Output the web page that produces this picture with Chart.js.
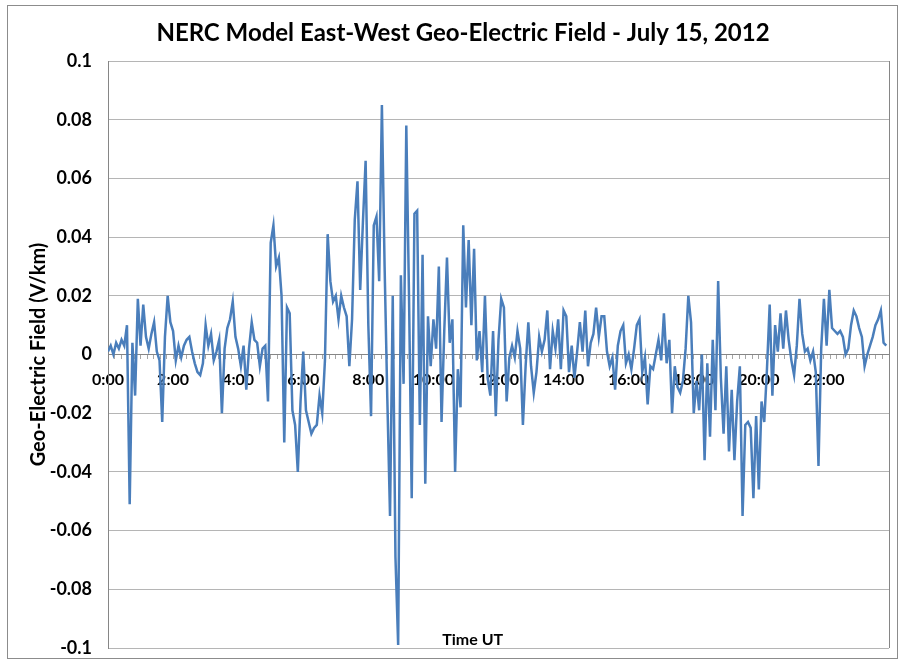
<!DOCTYPE html>
<html>
<head>
<meta charset="utf-8">
<title>NERC Model East-West Geo-Electric Field</title>
<script src="https://cdn.jsdelivr.net/npm/chart.js@4.4.0/dist/chart.umd.min.js"></script>
<style>
    html, body { margin: 0; padding: 0; background: #fff; }
    #wrap { width: 906px; height: 664px; position: relative; }
</style>
</head>
<body>
<div id="wrap"><canvas id="fieldChart"></canvas></div>
<script>
// 5-minute samples, one row per hour (0:00 ... 23:55)
const stepMinutes = 5;
const fieldValues = [
    0.001, 0.003, 0.000, 0.004, 0.002, 0.005, 0.003, 0.010, -0.051, 0.004, -0.014, 0.019,
    0.003, 0.017, 0.006, 0.002, 0.007, 0.011, 0.001, -0.002, -0.023, 0.006, 0.020, 0.011,
    0.008, -0.002, 0.003, -0.001, 0.003, 0.005, 0.006, 0.001, -0.003, -0.006, -0.007, -0.003,
    0.010, 0.003, 0.007, -0.002, 0.001, 0.005, -0.020, 0.002, 0.009, 0.012, 0.018, 0.006,
    0.002, -0.004, 0.003, -0.012, 0.002, 0.011, 0.005, 0.004, -0.004, 0.002, 0.003, -0.016,
    0.038, 0.044, 0.030, 0.033, 0.020, -0.030, 0.016, 0.014, -0.019, -0.024, -0.040, -0.016,
    0.001, -0.019, -0.023, -0.027, -0.025, -0.024, -0.014, -0.020, -0.002, 0.041, 0.025, 0.018,
    0.020, 0.012, 0.020, 0.016, 0.013, -0.004, 0.012, 0.046, 0.059, 0.022, 0.045, 0.066,
    0.010, -0.021, 0.044, 0.047, 0.025, 0.085, 0.030, -0.015, -0.055, 0.020, -0.069, -0.099,
    0.027, -0.010, 0.078, 0.020, -0.049, 0.048, 0.049, -0.024, 0.034, -0.044, 0.013, -0.004,
    0.012, 0.002, 0.030, -0.023, 0.008, 0.033, 0.004, 0.012, -0.040, -0.005, -0.018, 0.044,
    0.016, 0.039, 0.010, 0.036, -0.002, 0.008, -0.006, 0.020, -0.008, -0.014, 0.008, -0.021,
    0.005, 0.019, 0.016, -0.016, -0.001, 0.003, -0.001, 0.008, 0.002, -0.024, -0.004, 0.011,
    -0.004, -0.013, -0.006, 0.006, 0.001, 0.005, 0.015, -0.005, 0.008, 0.002, 0.012, -0.005,
    0.015, 0.013, -0.006, 0.003, -0.008, 0.001, 0.011, 0.001, 0.015, -0.004, 0.004, 0.007,
    0.016, 0.006, 0.013, 0.013, 0.001, -0.004, -0.001, -0.012, 0.003, 0.008, 0.010, -0.003,
    0.000, -0.005, 0.002, 0.010, 0.012, -0.006, -0.001, -0.017, -0.004, -0.005, 0.000, 0.005,
    -0.002, 0.014, -0.003, 0.005, -0.020, -0.004, -0.011, -0.013, -0.009, 0.002, 0.020, 0.011,
    -0.020, -0.009, -0.019, 0.000, -0.036, -0.003, -0.028, 0.005, -0.019, 0.025, -0.008, -0.027,
    -0.004, -0.033, -0.012, -0.036, -0.016, -0.004, -0.055, -0.024, -0.023, -0.025, -0.049, -0.021,
    -0.046, -0.016, -0.023, -0.005, 0.017, -0.014, 0.010, 0.001, 0.014, 0.002, 0.015, 0.005,
    -0.002, -0.007, 0.003, 0.019, 0.007, 0.001, 0.002, -0.002, 0.001, -0.006, -0.038, 0.002,
    0.019, 0.003, 0.022, 0.009, 0.008, 0.007, 0.008, 0.006, 0.000, 0.002, 0.010, 0.015,
    0.013, 0.009, 0.006, -0.004, 0.000, 0.003, 0.006, 0.010, 0.012, 0.015, 0.004, 0.003
];
const timeLabels = ['0:00', '2:00', '4:00', '6:00', '8:00', '10:00', '12:00', '14:00', '16:00', '18:00', '20:00', '22:00'];
const yTicks = [-0.1, -0.08, -0.06, -0.04, -0.02, 0, 0.02, 0.04, 0.06, 0.08, 0.1];

const chartTitle = 'NERC Model East-West Geo-Electric Field - July 15, 2012';
const yTitle = 'Geo-Electric Field (V/km)';
const xTitle = 'Time UT';

const FONT = 'Lato';
const LINE_COLOR = '#4a7ebb';

/**
 * 把采样点转换成 {x: 分钟, y: 值}
 */
function buildPoints() {
    return fieldValues.map((v, i) => ({ x: i * stepMinutes, y: v }));
}

/**
 * 外框、标题、右边框和底部的 "Time UT"
 */
const framePlugin = {
    id: 'frame',
    beforeDraw(chart) {
        const ctx = chart.ctx;
        ctx.save();
        ctx.fillStyle = '#fff';
        ctx.fillRect(0, 0, chart.width, chart.height);
        ctx.strokeStyle = '#8c8c8c';
        ctx.lineWidth = 1;
        ctx.strokeRect(7.5, 5.5, 890, 653);

        // 标题（略偏右，与原图一致）
        ctx.fillStyle = '#000';
        ctx.font = `bold 24px ${FONT}`;
        ctx.textAlign = 'center';
        ctx.textBaseline = 'middle';
        ctx.fillText(chartTitle, 463, 33);
        ctx.restore();
    },
    afterDraw(chart) {
        const { ctx, chartArea } = chart;
        ctx.save();
        ctx.strokeStyle = '#868686';
        ctx.lineWidth = 1;
        ctx.beginPath();
        ctx.moveTo(Math.round(chartArea.right) + 0.5, chartArea.top);
        ctx.lineTo(Math.round(chartArea.right) + 0.5, chartArea.bottom);
        ctx.stroke();

        ctx.fillStyle = '#000';
        ctx.font = `bold 16px ${FONT}`;
        ctx.textAlign = 'center';
        ctx.textBaseline = 'middle';
        const cx = chartArea.left + (chartArea.right - chartArea.left) * 0.467;
        ctx.fillText(xTitle, cx, chartArea.bottom - 8);
        ctx.restore();
    }
};

function renderChart() {
    const ctx = document.getElementById('fieldChart').getContext('2d');

    new Chart(ctx, {
        type: 'line',
        data: {
            datasets: [{
                data: buildPoints(),
                borderColor: LINE_COLOR,
                borderWidth: 2.5,
                pointRadius: 0,
                tension: 0,
                fill: false
            }]
        },
        options: {
            responsive: true,
            maintainAspectRatio: false,
            animation: false,
            layout: { padding: { left: 20, right: 17, top: 61, bottom: 16 } },
            plugins: {
                legend: { display: false },
                tooltip: { enabled: false },
                title: { display: false }
            },
            scales: {
                x: {
                    type: 'linear',
                    min: 0,
                    max: 1440,
                    position: { y: 0 },
                    z: 1,
                    // 坐标轴压在 0 线上，不占底部空间
                    afterFit: (scale) => { scale.height = 0; },
                    grid: { drawOnChartArea: false, drawTicks: true, tickLength: 4, color: '#a6a6a6' },
                    border: { display: true, color: '#868686', width: 1 },
                    ticks: {
                        stepSize: 12,
                        maxTicksLimit: 200,
                        autoSkip: false,
                        maxRotation: 0,
                        padding: 12,
                        color: '#000',
                        font: { family: FONT, size: 16, weight: 'bold' },
                        callback: (v) => {
                            const m = Math.round(v);
                            if (m % 120 !== 0) return '';
                            return timeLabels[m / 120] || '';
                        }
                    }
                },
                y: {
                    min: yTicks[0],
                    max: yTicks[yTicks.length - 1],
                    afterBuildTicks: (scale) => { scale.ticks = yTicks.map(v => ({ value: v })); },
                    afterFit: (scale) => { scale.width = 88; },
                    // 透明刻度线代替 ticks.padding，避免底部多出留白
                    grid: { color: '#b5b5b5', drawTicks: true, tickLength: 16, tickColor: 'rgba(0,0,0,0)' },
                    border: { color: '#868686' },
                    ticks: {
                        padding: 0,
                        color: '#000',
                        font: { family: FONT, size: 18, weight: 'bold' },
                        callback: (v) => {
                            const r = Math.round(v * 100) / 100;
                            return r === 0 ? '0' : String(r);
                        }
                    },
                    title: {
                        display: true,
                        text: yTitle,
                        color: '#000',
                        font: { family: FONT, size: 20, weight: 'bold' },
                        padding: { top: 7, bottom: 0 }
                    }
                }
            }
        },
        plugins: [framePlugin]
    });
}

renderChart();
</script>
</body>
</html>
